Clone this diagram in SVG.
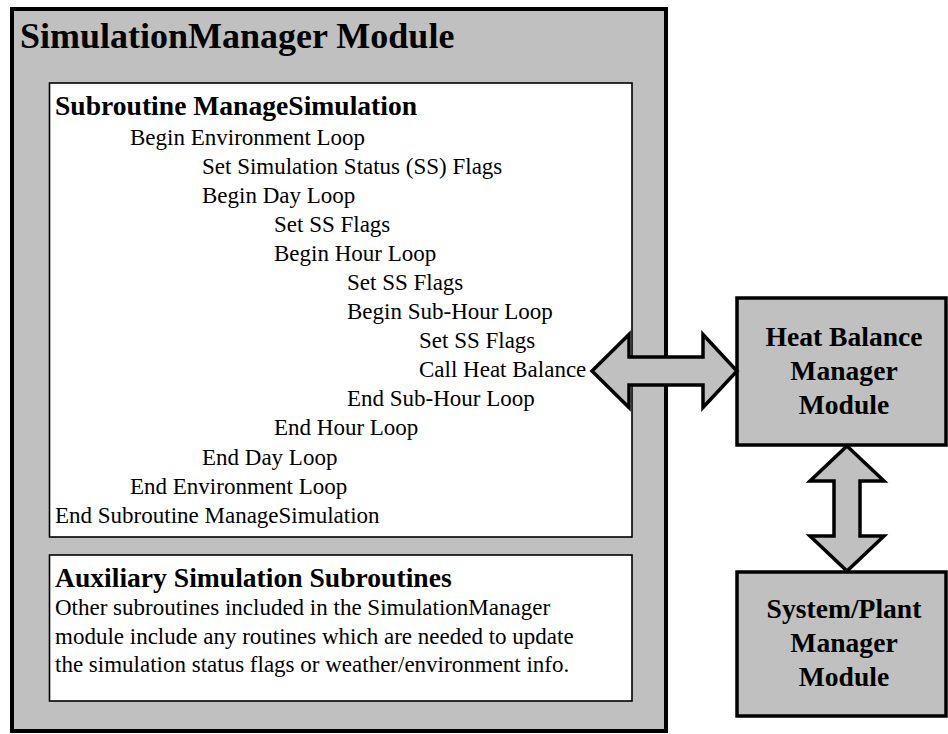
<svg xmlns="http://www.w3.org/2000/svg" width="948" height="734" viewBox="0 0 948 734">
<style>
text{font-family:'Liberation Serif',Tinos,'Times New Roman',Times,serif;fill:#000}
.b{font-weight:bold}
.t{font-size:23px}
.h{font-size:27.6px;font-weight:bold}
.gray{fill:#c0c0c0;stroke:#000}
.white{fill:#fff;stroke:#000;stroke-width:1.6}
.arrow{fill:#c0c0c0;stroke:#000;stroke-width:3.5;stroke-linejoin:miter}
</style>
<rect width="948" height="734" fill="#fff"/>
<g id="simulation-manager-module">
<rect class="gray" x="12" y="9" width="654" height="722" stroke-width="4"/>
<text x="20" y="48" class="b" font-size="36">SimulationManager Module</text>
</g>
<g id="manage-simulation">
<rect class="white" x="49.5" y="83" width="582.5" height="454"/>
<text x="55" y="115" class="h">Subroutine ManageSimulation</text>
<text class="t" x="130" y="145">Begin Environment Loop</text>
<text class="t" x="202" y="174">Set Simulation Status (SS) Flags</text>
<text class="t" x="202" y="203">Begin Day Loop</text>
<text class="t" x="274" y="232">Set SS Flags</text>
<text class="t" x="274" y="261">Begin Hour Loop</text>
<text class="t" x="347" y="290">Set SS Flags</text>
<text class="t" x="347" y="319">Begin Sub-Hour Loop</text>
<text class="t" x="419" y="348">Set SS Flags</text>
<text class="t" x="419" y="377">Call Heat Balance</text>
<text class="t" x="347" y="406">End Sub-Hour Loop</text>
<text class="t" x="274" y="435">End Hour Loop</text>
<text class="t" x="202" y="465">End Day Loop</text>
<text class="t" x="130" y="494">End Environment Loop</text>
<text class="t" x="55" y="523">End Subroutine ManageSimulation</text>
</g>
<g id="auxiliary-subroutines">
<rect class="white" x="49.5" y="555" width="582.5" height="146"/>
<text x="55" y="587" class="h">Auxiliary Simulation Subroutines</text>
<text class="t" x="55" y="615">Other subroutines included in the SimulationManager</text>
<text class="t" x="55" y="644">module include any routines which are needed to update</text>
<text class="t" x="55" y="672">the simulation status flags or weather/environment info.</text>
</g>
<g id="heat-balance-manager">
<rect class="gray" x="737" y="298" width="209" height="147" stroke-width="3.5"/>
<text class="h" x="844" y="346" text-anchor="middle">Heat Balance</text>
<text class="h" x="844" y="380" text-anchor="middle">Manager</text>
<text class="h" x="844" y="414" text-anchor="middle">Module</text>
</g>
<g id="system-plant-manager">
<rect class="gray" x="737" y="572" width="209" height="144" stroke-width="3.5"/>
<text class="h" x="844" y="618" text-anchor="middle">System/Plant</text>
<text class="h" x="844" y="652" text-anchor="middle">Manager</text>
<text class="h" x="844" y="686" text-anchor="middle">Module</text>
</g>
<g id="connectors">
<polygon class="arrow" points="592,371 629,334.5 629,357 703,357 703,334.5 737,371 703,407.5 703,385 629,385 629,407.5"/>
<polygon class="arrow" points="847,446 884,481 860,481 860,536 884,536 847,571 810,536 834,536 834,481 810,481"/>
</g>
</svg>
